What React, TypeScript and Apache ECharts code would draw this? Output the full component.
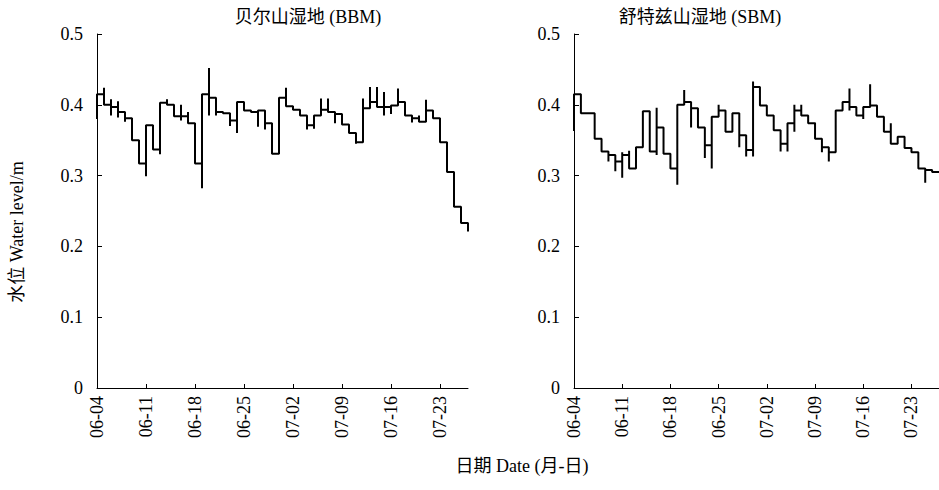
import React, { useEffect, useRef } from "react";
import * as echarts from "echarts";

// Tick labels on the date axis (one per week, starting 06-04)
const dayTicks = ["06-04", "06-11", "06-18", "06-25", "07-02", "07-09", "07-16", "07-23"];
const yTicks = [0, 0.1, 0.2, 0.3, 0.4, 0.5];

// Daily water level (m), day 0 = 06-04
const bbmLevel = [
  0.415, 0.4, 0.397, 0.39, 0.381, 0.35, 0.317, 0.371, 0.337, 0.403,
  0.4, 0.384, 0.384, 0.374, 0.317, 0.415, 0.41, 0.39, 0.388, 0.378,
  0.404, 0.392, 0.39, 0.392, 0.374, 0.331, 0.41, 0.398, 0.393, 0.385,
  0.371, 0.385, 0.393, 0.39, 0.387, 0.372, 0.36, 0.347, 0.395, 0.404,
  0.397, 0.397, 0.399, 0.404, 0.385, 0.381, 0.376, 0.392, 0.381, 0.347,
  0.305, 0.256, 0.233,
];
// Short within-day highs / lows at the start of each day (null = none)
const bbmHigh = [
  null, 0.424, 0.408, 0.405, null, null, null, null, null, null,
  0.408, 0.4, 0.4, 0.39, null, null, 0.452, 0.41, null, null,
  null, null, null, null, null, null, null, 0.424, null, null,
  null, null, 0.409, 0.409, null, null, null, null, 0.409, 0.425,
  0.425, 0.418, null, 0.423, null, null, 0.385, 0.407, null, null,
  null, null, null,
];
const bbmLow = [
  0.38, null, 0.385, 0.382, 0.376, null, null, 0.299, null, 0.33,
  null, null, 0.378, null, null, 0.282, 0.385, 0.385, null, 0.37,
  0.36, null, null, 0.369, 0.365, null, null, null, null, null,
  0.365, 0.366, null, null, 0.374, null, null, 0.345, null, null,
  null, 0.385, 0.387, null, null, 0.375, null, null, null, null,
  null, null, null,
];
const bbmEndLow = 0.221;

const sbmLevel = [
  0.415, 0.388, 0.388, 0.352, 0.334, 0.329, 0.32, 0.329, 0.31, 0.34,
  0.391, 0.334, 0.368, 0.331, 0.31, 0.4, 0.404, 0.395, 0.368, 0.343,
  0.383, 0.392, 0.362, 0.388, 0.357, 0.336, 0.425, 0.399, 0.385, 0.364,
  0.345, 0.374, 0.392, 0.385, 0.374, 0.352, 0.34, 0.333, 0.392, 0.404,
  0.397, 0.385, 0.397, 0.399, 0.383, 0.362, 0.345, 0.355, 0.339, 0.333,
  0.31, 0.308, 0.305,
];
const sbmHigh = [
  null, 0.41, null, null, null, null, null, 0.333, 0.335, null,
  null, null, 0.396, null, null, null, 0.421, null, null, 0.368,
  null, 0.4, null, null, null, null, 0.433, null, null, null,
  null, null, 0.4, 0.4, null, 0.375, null, null, null, null,
  0.423, null, null, 0.429, null, null, 0.374, null, null, null,
  null, null, null,
];
const sbmLow = [
  0.363, null, null, null, null, 0.32, 0.306, 0.297, 0.31, null,
  null, null, 0.329, null, null, 0.287, null, 0.368, null, 0.325,
  0.31, null, 0.362, null, 0.34, 0.327, 0.327, null, null, null,
  0.334, 0.334, 0.362, null, null, null, 0.333, 0.32, null, null,
  0.392, null, 0.38, null, null, null, null, null, null, null,
  null, 0.29, null,
];
const sbmEndLow: number | null = null;

const FONT = "'Liberation Serif', 'Times New Roman', 'Noto Sans CJK SC', serif";

function buildPoints(level: number[], high: (number | null)[], low: (number | null)[], endLow: number | null) {
  const pts: number[][] = [];
  for (let i = 0; i < level.length; i++) {
    if (low[i] != null) pts.push([i, low[i] as number]);
    if (high[i] != null) pts.push([i, high[i] as number]);
    pts.push([i, level[i]]);
    pts.push([i + 1, level[i]]);
  }
  if (endLow != null) pts.push([level.length, endLow]);
  return pts;
}

export default function App() {
  const ref = useRef<HTMLDivElement>(null);
  useEffect(() => {
    if (!ref.current) return;
    const chart = echarts.init(ref.current, null, { renderer: "svg" });
    const nDays = bbmLevel.length;
    const tickVals = dayTicks.map((_, i) => i * 7);
    const xAxisBase = (gi: number) => ({
      type: "value",
      gridIndex: gi,
      min: 0,
      max: nDays,
      axisLine: { show: true, lineStyle: { color: "#000", width: 1 } },
      axisTick: { show: true, inside: true, length: 4, customValues: tickVals, lineStyle: { color: "#000" } },
      axisLabel: {
        customValues: tickVals,
        rotate: 90,
        color: "#000",
        fontSize: 18,
        fontFamily: FONT,
        margin: 8,
        formatter: (v: number) => dayTicks[Math.round(v / 7)] ?? "",
      },
      splitLine: { show: false },
    });
    const yAxisBase = (gi: number) => ({
      type: "value",
      gridIndex: gi,
      min: yTicks[0],
      max: yTicks[yTicks.length - 1],
      interval: 0.1,
      axisLine: { show: true, lineStyle: { color: "#000", width: 1 } },
      axisTick: { show: true, inside: true, length: 5, lineStyle: { color: "#000" } },
      axisLabel: {
        color: "#000",
        fontSize: 18,
        fontFamily: FONT,
        margin: 14,
        formatter: (v: number) => (v === 0 ? "0" : v.toFixed(1)),
      },
      splitLine: { show: false },
    });
    chart.setOption({
      animation: false,
      backgroundColor: "#fff",
      grid: [
        { left: 97, top: 34, width: 371, height: 354 },
        { left: 574, top: 34, width: 371, height: 354 },
      ],
      xAxis: [xAxisBase(0), xAxisBase(1)],
      yAxis: [yAxisBase(0), yAxisBase(1)],
      graphic: [
        {
          type: "text",
          x: 308,
          y: 8,
          style: { text: "贝尔山湿地 (BBM)", fontSize: 18, fontFamily: FONT, fill: "#000", textAlign: "center" },
        },
        {
          type: "text",
          x: 700,
          y: 8,
          style: { text: "舒特兹山湿地 (SBM)", fontSize: 18, fontFamily: FONT, fill: "#000", textAlign: "center" },
        },
        {
          type: "text",
          x: 8,
          y: 232,
          rotation: Math.PI / 2,
          style: { text: "水位 Water level/m", fontSize: 18, fontFamily: FONT, fill: "#000", textAlign: "center", textVerticalAlign: "top" },
        },
        {
          type: "text",
          x: 522,
          y: 457,
          style: { text: "日期 Date (月-日)", fontSize: 18, fontFamily: FONT, fill: "#000", textAlign: "center" },
        },
      ],
      series: [
        {
          type: "line",
          xAxisIndex: 0,
          yAxisIndex: 0,
          data: buildPoints(bbmLevel, bbmHigh, bbmLow, bbmEndLow),
          showSymbol: false,
          lineStyle: { color: "#000", width: 2 },
        },
        {
          type: "line",
          xAxisIndex: 1,
          yAxisIndex: 1,
          data: buildPoints(sbmLevel, sbmHigh, sbmLow, sbmEndLow),
          showSymbol: false,
          lineStyle: { color: "#000", width: 2 },
        },
      ],
    });
    return () => chart.dispose();
  }, []);
  return (
    <div
      ref={ref}
      style={{ position: "absolute", left: 0, top: 0, width: 939, height: 490 }}
    />
  );
}
